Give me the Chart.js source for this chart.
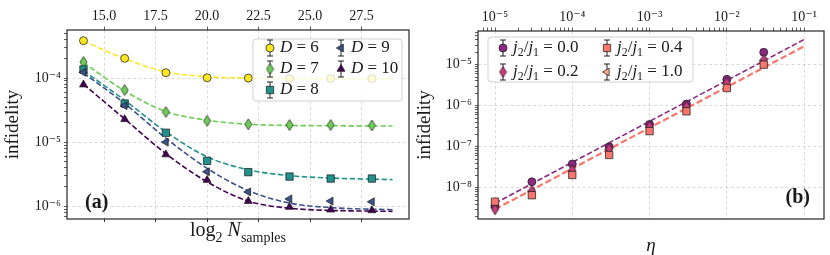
<!DOCTYPE html>
<html lang="en">
<head>
  <meta charset="UTF-8">
  <title>Infidelity panels</title>
  <script src="https://cdn.jsdelivr.net/npm/chart.js"></script>
  <style>
    body { margin: 0; background: #fff; }
    #wrap { position: relative; width: 830px; height: 255px; }
    .panel { position: absolute; top: 0; width: 415px; height: 255px; }
  </style>
</head>
<body>
<div id="wrap">
  <div class="panel" style="left:0"><canvas id="chartA" width="415" height="255"></canvas></div>
  <div class="panel" style="left:415px"><canvas id="chartB" width="415" height="255"></canvas></div>
</div>

<script>
// ---- panel (a): infidelity vs log2 N_samples ----
const log2Samples = [14, 16, 18, 20, 22, 24, 26, 28];
const depths = ['6', '7', '8', '9', '10'];
const infD6  = [3.83e-4, 2.03e-4, 1.21e-4, 1.01e-4, 1.0e-4, 0.98e-4, 0.98e-4, 0.98e-4];
const infD7  = [1.78e-4, 6.5e-5, 2.95e-5, 2.15e-5, 1.9e-5, 1.85e-5, 1.85e-5, 1.82e-5];
const infD8  = [1.36e-4, 4.0e-5, 1.4e-5, 5.1e-6, 3.4e-6, 2.9e-6, 2.7e-6, 2.7e-6];
const infD9  = [1.23e-4, 3.7e-5, 1.0e-5, 3.45e-6, 1.67e-6, 1.3e-6, 1.2e-6, 1.17e-6];
const infD10 = [7.9e-5, 2.27e-5, 6.4e-6, 2.56e-6, 1.2e-6, 9.7e-7, 8.8e-7, 8.6e-7];

const fitSamples = [14, 16, 18, 20, 22, 24, 26, 29];
const fitD6  = [3.8e-4, 2.0e-4, 1.25e-4, 1.05e-4, 1.0e-4, 0.98e-4, 0.97e-4, 0.97e-4];
const fitD7  = [1.75e-4, 6.3e-5, 3.0e-5, 2.2e-5, 1.9e-5, 1.82e-5, 1.8e-5, 1.78e-5];
const fitD8  = [1.3e-4, 4.5e-5, 1.45e-5, 5.9e-6, 3.7e-6, 3.0e-6, 2.75e-6, 2.6e-6];
const fitD9  = [1.2e-4, 4.0e-5, 1.15e-5, 3.9e-6, 1.75e-6, 1.12e-6, 9.5e-7, 8.8e-7];
const fitD10 = [8.0e-5, 2.3e-5, 6.6e-6, 2.4e-6, 1.2e-6, 9.3e-7, 8.6e-7, 8.3e-7];
const sampleTicks = [15, 17.5, 20, 22.5, 25, 27.5];

// ---- panel (b): infidelity vs eta ----
const etaValues = [1e-5, 3e-5, 1e-4, 3e-4, 1e-3, 3e-3, 1e-2, 3e-2];
const ratios = ['0.0', '0.2', '0.4', '1.0'];
const infJ00 = [3.6e-9, 1.4e-8, 3.8e-8, 1.0e-7, 3.5e-7, 1.1e-6, 4.4e-6, 2.0e-5];
const infJ02 = [3.0e-9, 8.5e-9, 2.7e-8, 8.8e-8, 3.1e-7, 9.5e-7, 3.6e-6, 1.3e-5];
const infJ04 = [4.6e-9, 6.6e-9, 2.05e-8, 6.3e-8, 2.4e-7, 7.3e-7, 2.7e-6, 1.0e-5];
const infJ10 = [3.4e-9, 8.0e-9, 2.6e-8, 8.5e-8, 3.0e-7, 9.3e-7, 3.5e-6, 1.25e-5];
const fitEta = [1e-5, 1e-1];
const fitJ00 = [4.2e-9, 4.1e-5];
const fitJ04 = [3.0e-9, 2.8e-5];

const SERIF = '"Liberation Serif", "DejaVu Serif", serif';
const EDGE = 'rgba(25,25,25,0.9)';
const GRID = 'rgba(170,170,170,0.55)';
const TXT = '#1a1a1a';
const viridis = ['#fde725', '#6ece58', '#21918c', '#3b528b', '#440154'];
const magma = ['#8c2981', '#c83c7c', '#f8766d', '#fcae80'];

const pts = (xs, ys) => xs.map((x, i) => ({ x, y: ys[i] }));
const SUP = { '-': '\u207b', '0': '\u2070', '1': '\u00b9', '2': '\u00b2', '3': '\u00b3', '4': '\u2074',
  '5': '\u2075', '6': '\u2076', '7': '\u2077', '8': '\u2078', '9': '\u2079' };
const isDecade = v => Math.abs(Math.log10(v) - Math.round(Math.log10(v))) < 1e-6;
const decadeLabel = v => isDecade(v) ? '10' + String(Math.round(Math.log10(v))).split('').map(c => SUP[c]).join('') : '';

function logTicks(lo, hi, min, max) {
  const out = [];
  for (let e = lo; e <= hi; e++) for (let m = 1; m < 10; m++) {
    const v = m * Math.pow(10, e);
    if (v >= min && v <= max) out.push({ value: v });
  }
  return out;
}

function thinDiamond(fill, w, h) {
  const c = document.createElement('canvas');
  c.width = w + 2; c.height = h + 2;
  const g = c.getContext('2d');
  g.beginPath();
  g.moveTo(c.width / 2, 1); g.lineTo(c.width - 1, c.height / 2);
  g.lineTo(c.width / 2, c.height - 1); g.lineTo(1, c.height / 2);
  g.closePath();
  g.fillStyle = fill; g.fill();
  g.lineWidth = 0.8; g.strokeStyle = EDGE; g.stroke();
  return c;
}

function drawRich(ctx, parts, x, y, fs) {
  for (const [t, s] of parts) {
    const sub = s.includes('s');
    ctx.font = (s.includes('i') ? 'italic ' : '') + (sub ? fs * 0.7 : fs) + 'px ' + SERIF;
    ctx.fillText(t, x, y + (sub ? fs * 0.28 : 0));
    x += ctx.measureText(t).width;
  }
  return x;
}
function richWidth(ctx, parts, fs) {
  let w = 0;
  for (const [t, s] of parts) {
    ctx.font = (s.includes('i') ? 'italic ' : '') + (s.includes('s') ? fs * 0.7 : fs) + 'px ' + SERIF;
    w += ctx.measureText(t).width;
  }
  return w;
}

// legend, frame and panel letters
const decor = {
  id: 'decor',
  afterDatasetsDraw(chart, args, o) {
    const { ctx, chartArea: a } = chart;
    const L = o.legend;
    const bx = a.left + L.x, by = a.top + L.y;
    ctx.save();
    ctx.beginPath();
    ctx.roundRect(bx, by, L.w, L.h, 3);
    ctx.fillStyle = 'rgba(255,255,255,0.8)';
    ctx.fill();
    ctx.strokeStyle = 'rgba(204,204,204,0.9)';
    ctx.lineWidth = 1;
    ctx.stroke();
    chart.data.datasets.forEach(ds => {
      if (!ds.slot) return;
      const [col, row] = ds.slot;
      const mx = bx + L.colX[col], my = by + L.rowY[row];
      ctx.strokeStyle = '#222'; ctx.lineWidth = 1;
      ctx.beginPath();
      ctx.moveTo(mx, my - 8); ctx.lineTo(mx, my + 8);
      ctx.moveTo(mx - 3, my - 8); ctx.lineTo(mx + 3, my - 8);
      ctx.moveTo(mx - 3, my + 8); ctx.lineTo(mx + 3, my + 8);
      ctx.stroke();
      ctx.fillStyle = ds.backgroundColor;
      ctx.strokeStyle = EDGE; ctx.lineWidth = 0.8;
      Chart.helpers.drawPoint(ctx, { pointStyle: ds.pointStyle, rotation: ds.pointRotation || 0,
        radius: ds.pointRadius, borderWidth: 0.8 }, mx, my);
      ctx.fillStyle = TXT;
      ctx.textBaseline = 'middle';
      ctx.textAlign = 'left';
      drawRich(ctx, ds.mathLabel, mx + 10, my, L.fs);
    });
    ctx.restore();
  },
  afterDraw(chart, args, o) {
    const { ctx, chartArea: a } = chart;
    ctx.save();
    ctx.strokeStyle = '#262626';
    ctx.lineWidth = 1.2;
    ctx.strokeRect(a.left, a.top, a.right - a.left, a.bottom - a.top);
    ctx.fillStyle = TXT;
    ctx.textBaseline = 'alphabetic';
    ctx.textAlign = 'left';
    ctx.font = 'bold 20px ' + SERIF;
    const tag = o.tag;
    ctx.fillText(tag.text, tag.right ? a.right - tag.dx - ctx.measureText(tag.text).width : a.left + tag.dx, a.bottom - tag.dy);
    if (o.xTitle) {
      const w = richWidth(ctx, o.xTitle, 20);
      drawRich(ctx, o.xTitle, (a.left + a.right) / 2 - w / 2, 236, 20);
    }
    ctx.restore();
  }
};

function pointSet(label, xs, ys, color, style, extra) {
  return Object.assign({
    data: pts(xs, ys), showLine: false, backgroundColor: color, borderColor: EDGE,
    pointBackgroundColor: color, pointBorderColor: EDGE, pointBorderWidth: 0.8,
    pointStyle: style, pointRadius: 4, pointHoverRadius: 4, mathLabel: label
  }, extra);
}
function fitSet(xs, ys, color, width, dash) {
  return {
    data: pts(xs, ys), borderColor: color, borderWidth: width, borderDash: dash,
    pointRadius: 0, cubicInterpolationMode: 'monotone', fill: false, order: 20
  };
}

function baseScales(xType, xMin, xMax, xTicks, xLabel, yMin, yMax, yTicks, yWidth, topH, titlePad, bottomTicks) {
  const tickFont = { family: SERIF, size: 14 };
  const gridCol = c => (c.tick && isDecade(c.tick.value)) || xType === 'linear' ? GRID : 'rgba(0,0,0,0)';
  return {
    x: {
      type: xType, position: 'bottom', min: xMin, max: xMax,
      afterBuildTicks: s => { s.ticks = xTicks(); },
      ticks: { display: false },
      grid: { drawOnChartArea: false, drawTicks: bottomTicks, tickLength: 3, tickColor: '#333' },
      border: { display: false },
      title: { display: false },
      afterFit: s => { s.height = 36; }
    },
    x2: {
      type: xType, position: 'top', min: xMin, max: xMax,
      afterBuildTicks: s => { s.ticks = xTicks(); },
      ticks: { callback: xLabel, autoSkip: false, maxRotation: 0, color: TXT, font: tickFont, padding: 2 },
      grid: { color: gridCol, lineWidth: 0.8, tickLength: 3.5, tickColor: '#333' },
      border: { display: false, dash: [3, 2.5] },
      afterFit: s => { s.height = topH; }
    },
    y: {
      type: 'logarithmic', min: yMin, max: yMax,
      afterBuildTicks: s => { s.ticks = yTicks(); },
      ticks: { callback: v => decadeLabel(v), autoSkip: false, color: TXT, font: tickFont, padding: 3 },
      grid: { color: c => isDecade(c.tick.value) ? GRID : 'rgba(0,0,0,0)', lineWidth: 0.8,
        tickLength: 3, tickColor: '#333' },
      border: { display: false, dash: [3, 2.5] },
      title: { display: true, text: 'infidelity', color: TXT,
        font: { family: SERIF, size: 19, lineHeight: 1 }, padding: { top: titlePad, bottom: 0 } },
      afterFit: s => { s.width = yWidth; }
    }
  };
}

const commonOpts = {
  responsive: false, animation: false, devicePixelRatio: 1,
  plugins: { legend: { display: false }, tooltip: { enabled: false } }
};

// panel (a)
const aMinY = Math.pow(10, -6.2), aMaxY = Math.pow(10, -3.25);
const infByDepth = [infD6, infD7, infD8, infD9, infD10];
const fitByDepth = [fitD6, fitD7, fitD8, fitD9, fitD10];
const depthStyles = ['circle', thinDiamond(viridis[1], 7, 11), 'rect', 'triangle', 'triangle'];
const depthSlots = [[0, 0], [0, 1], [0, 2], [1, 0], [1, 1]];
const dsA = [];
depths.forEach((d, i) => {
  const extra = { slot: depthSlots[i], order: 5 - i };
  if (i === 2) extra.pointRadius = 5.2;
  if (i === 3) { extra.pointRotation = -90; extra.pointRadius = 4.6; }
  if (i === 4) extra.pointRadius = 4.6;
  dsA.push(pointSet([['D', 'i'], [' = ' + d, 'r']], log2Samples, infByDepth[i], viridis[i], depthStyles[i], extra));
});
depths.forEach((d, i) => dsA.push(fitSet(fitSamples, fitByDepth[i], viridis[i], 1.6, [5.5, 2.5])));

new Chart(document.getElementById('chartA'), {
  type: 'line',
  data: { datasets: dsA },
  options: Object.assign({}, commonOpts, {
    layout: { padding: { left: 0, right: 5, top: 0, bottom: 0 } },
    scales: baseScales('linear', 13.2, 29.8, () => sampleTicks.map(v => ({ value: v })),
      v => Number(v).toFixed(1), aMinY, aMaxY, () => logTicks(-7, -3, aMinY, aMaxY),
      67, 30, 3.5, true),
    plugins: Object.assign({}, commonOpts.plugins, {
      decor: {
        legend: { x: 186, y: 9, w: 149, h: 62, colX: [17, 88], rowY: [9, 30, 51], fs: 17 },
        tag: { text: '(a)', dx: 18, dy: 11, right: false },
        xTitle: [['log', 'r'], ['2', 's'], [' ', 'r'], ['N', 'i'], ['samples', 's']]
      }
    })
  }),
  plugins: [decor]
});

// panel (b)
const bMinX = Math.pow(10, -5.22), bMaxX = Math.pow(10, -0.743);
const bMinY = Math.pow(10, -8.76), bMaxY = Math.pow(10, -4.18);
const infByRatio = [infJ00, infJ02, infJ04, infJ10];
const ratioStyles = ['circle', thinDiamond(magma[1], 7, 11), 'rect', 'triangle'];
const ratioSlots = [[0, 0], [0, 1], [1, 0], [1, 1]];
const dsB = [];
ratios.forEach((r, i) => {
  const extra = { slot: ratioSlots[i], order: 4 - i };
  if (i === 2) extra.pointRadius = 5.2;
  if (i === 3) { extra.pointRotation = -90; extra.pointRadius = 4.4; extra.order = 5; }
  dsB.push(pointSet([['j', 'i'], ['2', 's'], ['/', 'r'], ['j', 'i'], ['1', 's'], [' = ' + r, 'r']],
    etaValues, infByRatio[i], magma[i], ratioStyles[i], extra));
});
dsB.push(fitSet(fitEta, fitJ04, magma[2], 2.2, [6.5, 3]));
dsB.push(fitSet(fitEta, fitJ00, magma[0], 1.6, [5.5, 2.5]));

new Chart(document.getElementById('chartB'), {
  type: 'line',
  data: { datasets: dsB },
  options: Object.assign({}, commonOpts, {
    layout: { padding: { left: 0, right: 4, top: 0, bottom: 0 } },
    scales: (() => {
      const s = baseScales('logarithmic', bMinX, bMaxX, () => logTicks(-6, -1, bMinX, bMaxX),
        decadeLabel, bMinY, bMaxY, () => logTicks(-9, -5, bMinY, bMaxY), 63, 31, 0.5, false);
      s.x.title = { display: true, text: '\u03b7', color: TXT,
        font: { family: SERIF, size: 19, style: 'italic', lineHeight: 1 }, padding: { top: 9, bottom: 0 } };
      return s;
    })(),
    plugins: Object.assign({}, commonOpts.plugins, {
      decor: {
        legend: { x: 10, y: 6, w: 205, h: 45, colX: [15, 119], rowY: [11, 35], fs: 17 },
        tag: { text: '(b)', dx: 14, dy: 16, right: true }
      }
    })
  }),
  plugins: [decor]
});
</script>
</body>
</html>
